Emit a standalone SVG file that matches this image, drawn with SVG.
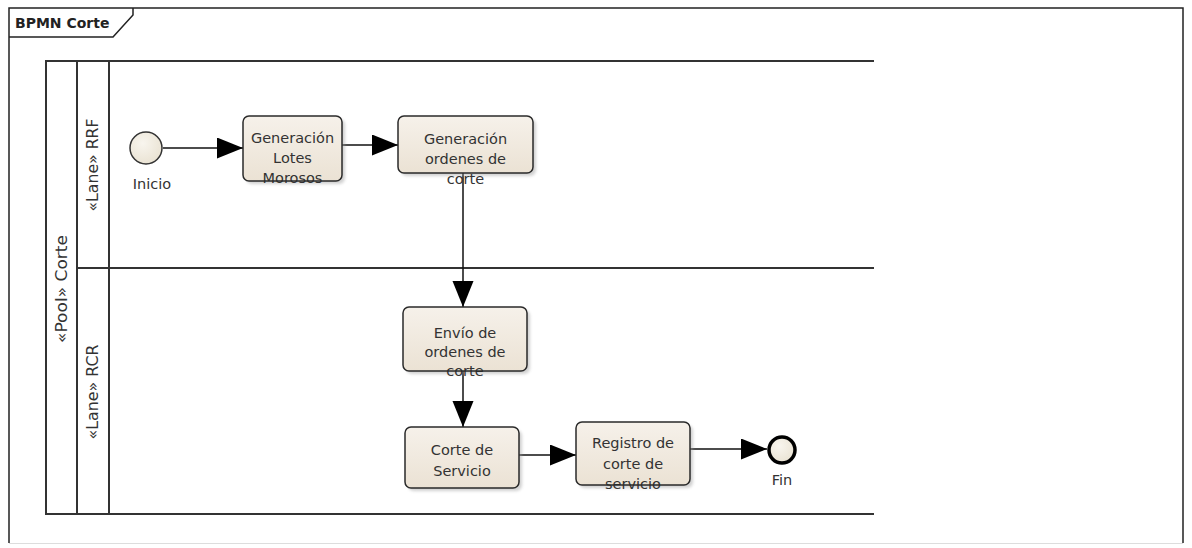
<svg xmlns="http://www.w3.org/2000/svg" width="1192" height="548" viewBox="0 0 1192 548">
  <style>
    .frame { fill: none; stroke: #222; stroke-width: 1.5; }
    .pool { fill: none; stroke: #333; stroke-width: 2; }
    .lbl { font-family: "DejaVu Sans", "Liberation Sans", sans-serif; font-size: 14.5px; fill: #333; text-anchor: middle; }
    .title { font-family: "DejaVu Sans", "Liberation Sans", sans-serif; font-size: 14px; font-weight: bold; fill: #222; }
    .lane { font-family: "DejaVu Sans", "Liberation Sans", sans-serif; font-size: 15px; fill: #333; text-anchor: middle; }
    .task-fill { fill: url(#taskGrad); }
    .task-line { fill: none; stroke: #2a2a2a; stroke-width: 1.5; }
    .shadow { fill: #9a9a9a; opacity: 0.45; filter: url(#soft); }
    .flow { fill: none; stroke: #111; stroke-width: 1.5; marker-end: url(#arrow); }
    .event { fill: url(#evtGrad); stroke: #333; stroke-width: 1.5; }
    .event-end { fill: url(#evtGrad); stroke: #000; stroke-width: 3.5; }
  </style>
  <defs>
    <linearGradient id="taskGrad" x1="0" y1="0" x2="0" y2="1">
      <stop offset="0" stop-color="#f6f1ea"/>
      <stop offset="1" stop-color="#ebe2d4"/>
    </linearGradient>
    <radialGradient id="evtGrad" cx="0.4" cy="0.35" r="0.7">
      <stop offset="0" stop-color="#f8f5ee"/>
      <stop offset="1" stop-color="#e9e2d2"/>
    </radialGradient>
    <filter id="soft" x="-10%" y="-10%" width="120%" height="120%">
      <feGaussianBlur stdDeviation="1.5"/>
    </filter>
    <marker id="arrow" markerUnits="userSpaceOnUse" markerWidth="27" markerHeight="22" refX="26" refY="10.5" orient="auto">
      <path d="M0,0 L26,10.5 L0,21 Z" fill="#000"/>
    </marker>
  </defs>

  <rect x="0" y="0" width="1192" height="548" fill="#fff"/>

  <!-- diagram frame with name tab -->
  <g id="frame">
    <path class="frame" d="M9,543 L9,8 L1183,8 L1183,543"/>
    <line x1="9" y1="543.5" x2="1183" y2="543.5" stroke="#ddd" stroke-width="1"/>
    <path class="frame" d="M9,37 L113,37 L133,15 L133,8"/>
    <text class="title" x="15" y="28">BPMN Corte</text>
  </g>

  <!-- pool and lanes -->
  <g id="pool-corte">
    <path class="pool" d="M874,61 L46,61 L46,514 L874,514"/>
    <line class="pool" x1="77" y1="61" x2="77" y2="514"/>
    <line class="pool" x1="109" y1="61" x2="109" y2="514"/>
    <text class="lane" transform="translate(67,289) rotate(-90)" textLength="108" lengthAdjust="spacingAndGlyphs">«Pool» Corte</text>
  </g>
  <g id="lane-rrf">
    <text class="lane" transform="translate(98,165) rotate(-90)" textLength="93" lengthAdjust="spacingAndGlyphs">«Lane» RRF</text>
  </g>
  <g id="lane-rcr">
    <line class="pool" x1="77" y1="268" x2="874" y2="268"/>
    <text class="lane" transform="translate(98,392) rotate(-90)" textLength="95" lengthAdjust="spacingAndGlyphs">«Lane» RCR</text>
  </g>

  <!-- sequence flows -->
  <g id="connectors">
    <line class="flow" x1="163" y1="148" x2="243" y2="148"/>
    <line class="flow" x1="342" y1="145" x2="398" y2="145"/>
    <line class="flow" x1="463" y1="173" x2="463" y2="307"/>
    <line class="flow" x1="463" y1="371" x2="463" y2="427"/>
    <line class="flow" x1="519" y1="455" x2="576" y2="455"/>
    <line class="flow" x1="690" y1="449" x2="767" y2="449"/>
  </g>

  <!-- start event -->
  <g id="inicio">
    <circle class="event" cx="146" cy="148" r="16"/>
    <text class="lbl" x="152" y="189">Inicio</text>
  </g>

  <g id="generacion-lotes">
    <rect class="shadow" x="246" y="119" width="99" height="65" rx="6"/>
    <rect class="task-fill" x="243" y="116" width="99" height="65" rx="6"/>
    <text class="lbl" x="292.5" y="143">Generación</text>
    <text class="lbl" x="292.5" y="163">Lotes</text>
    <text class="lbl" x="292.5" y="183">Morosos</text>
    <rect class="task-line" x="243" y="116" width="99" height="65" rx="6"/>
  </g>

  <g id="generacion-ordenes">
    <rect class="shadow" x="401" y="119" width="135" height="57" rx="6"/>
    <rect class="task-fill" x="398" y="116" width="135" height="57" rx="6"/>
    <text class="lbl" x="465.5" y="144">Generación</text>
    <text class="lbl" x="465.5" y="164">ordenes de</text>
    <text class="lbl" x="465.5" y="184">corte</text>
    <rect class="task-line" x="398" y="116" width="135" height="57" rx="6"/>
  </g>

  <g id="envio-ordenes">
    <rect class="shadow" x="406" y="310" width="124" height="64" rx="6"/>
    <rect class="task-fill" x="403" y="307" width="124" height="64" rx="6"/>
    <text class="lbl" x="465" y="338">Envío de</text>
    <text class="lbl" x="465" y="357">ordenes de</text>
    <text class="lbl" x="465" y="376">corte</text>
    <rect class="task-line" x="403" y="307" width="124" height="64" rx="6"/>
  </g>

  <g id="corte-servicio">
    <rect class="shadow" x="408" y="430" width="114" height="61" rx="6"/>
    <rect class="task-fill" x="405" y="427" width="114" height="61" rx="6"/>
    <text class="lbl" x="462" y="455">Corte de</text>
    <text class="lbl" x="462" y="476">Servicio</text>
    <rect class="task-line" x="405" y="427" width="114" height="61" rx="6"/>
  </g>

  <g id="registro-corte">
    <rect class="shadow" x="579" y="425" width="114" height="63" rx="6"/>
    <rect class="task-fill" x="576" y="422" width="114" height="63" rx="6"/>
    <text class="lbl" x="633" y="448">Registro de</text>
    <text class="lbl" x="633" y="469">corte de</text>
    <text class="lbl" x="633" y="489">servicio</text>
    <rect class="task-line" x="576" y="422" width="114" height="63" rx="6"/>
  </g>

  <!-- end event -->
  <g id="fin">
    <circle class="event-end" cx="782" cy="450" r="13"/>
    <text class="lbl" x="782" y="485">Fin</text>
  </g>
</svg>
